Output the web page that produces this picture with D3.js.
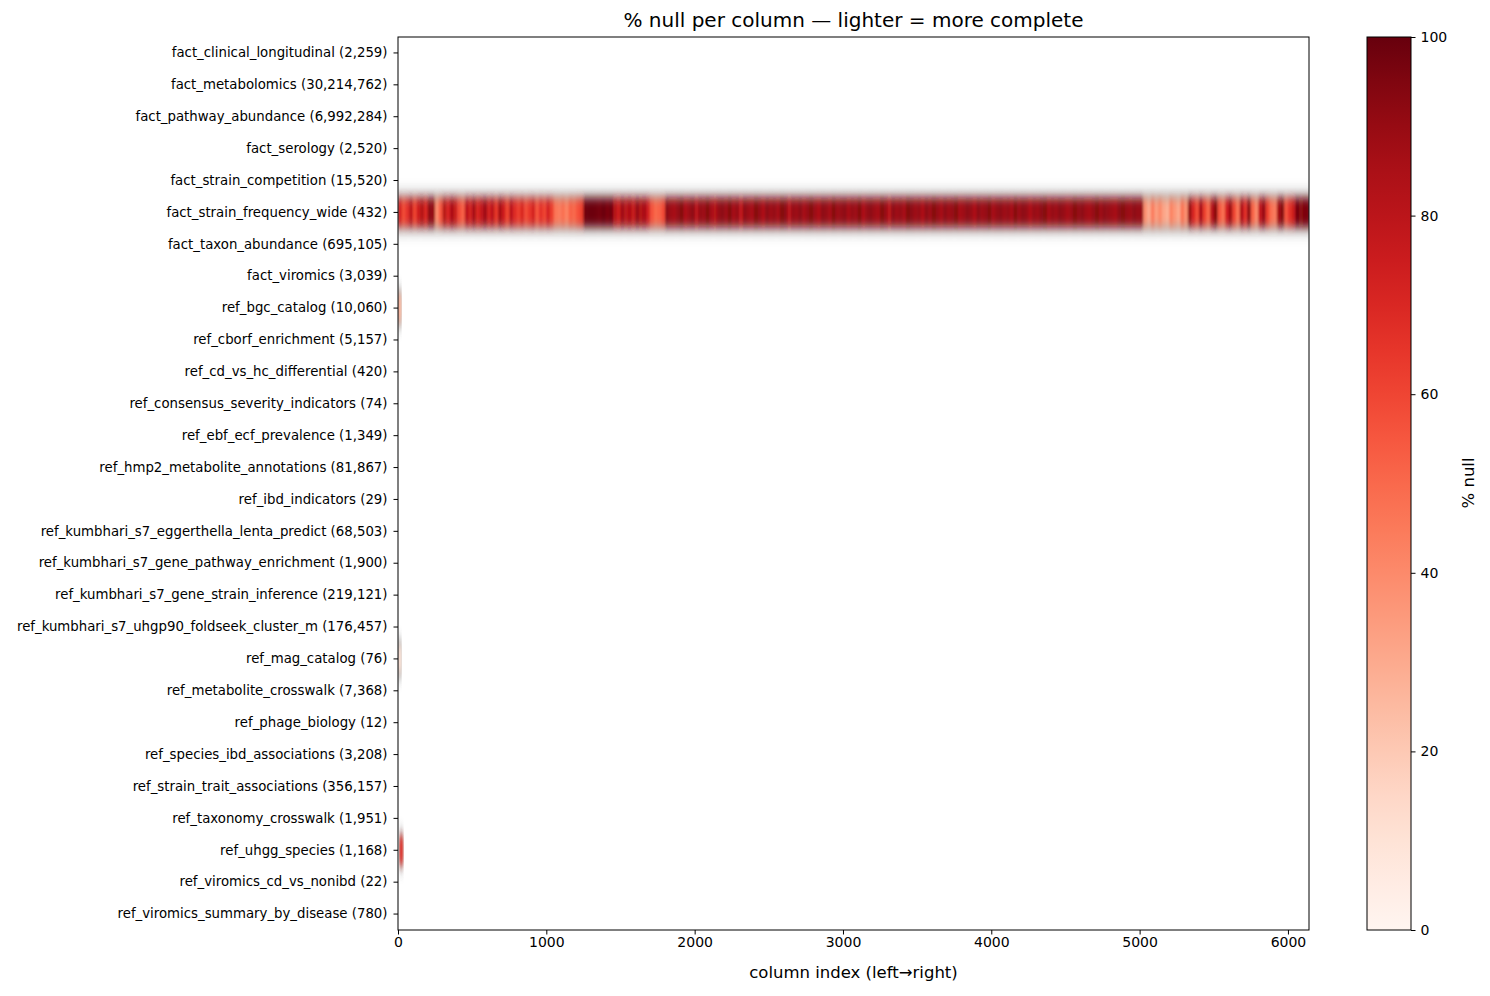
<!DOCTYPE html>
<html>
<head>
<meta charset="utf-8">
<script src="https://cdn.jsdelivr.net/npm/d3@7"></script>
<style>
  body { margin: 0; background: #fff; }
  text { font-family: "DejaVu Sans", sans-serif; fill: #000; }
</style>
</head>
<body>
<svg id="chart" width="1490" height="996"></svg>
<script>
// table names with row counts, top to bottom
var tables = [
  "fact_clinical_longitudinal (2,259)",
  "fact_metabolomics (30,214,762)",
  "fact_pathway_abundance (6,992,284)",
  "fact_serology (2,520)",
  "fact_strain_competition (15,520)",
  "fact_strain_frequency_wide (432)",
  "fact_taxon_abundance (695,105)",
  "fact_viromics (3,039)",
  "ref_bgc_catalog (10,060)",
  "ref_cborf_enrichment (5,157)",
  "ref_cd_vs_hc_differential (420)",
  "ref_consensus_severity_indicators (74)",
  "ref_ebf_ecf_prevalence (1,349)",
  "ref_hmp2_metabolite_annotations (81,867)",
  "ref_ibd_indicators (29)",
  "ref_kumbhari_s7_eggerthella_lenta_predict (68,503)",
  "ref_kumbhari_s7_gene_pathway_enrichment (1,900)",
  "ref_kumbhari_s7_gene_strain_inference (219,121)",
  "ref_kumbhari_s7_uhgp90_foldseek_cluster_m (176,457)",
  "ref_mag_catalog (76)",
  "ref_metabolite_crosswalk (7,368)",
  "ref_phage_biology (12)",
  "ref_species_ibd_associations (3,208)",
  "ref_strain_trait_associations (356,157)",
  "ref_taxonomy_crosswalk (1,951)",
  "ref_uhgg_species (1,168)",
  "ref_viromics_cd_vs_nonibd (22)",
  "ref_viromics_summary_by_disease (780)"
];

var nColumns = 6142;
var blockSize = 25;

// % null of fact_strain_frequency_wide, one value per 25-column block
var strainFreqNull = [
  72, 58, 66, 80, 60, 74, 82, 70, 92, 90, 40, 55, 82, 70, 85, 76, 58, 52, 80, 72,
  86, 70, 78, 88, 72, 80, 64, 86, 74, 60, 80, 68, 62, 70, 58, 64, 72, 56, 66, 60,
  72, 62, 46, 44, 48, 42, 52, 50, 56, 62, 98, 99, 99, 98, 97, 99, 96, 98, 82, 74,
  88, 80, 84, 76, 90, 82, 86, 72, 56, 50, 52, 58, 92, 88, 86, 90, 94, 84, 88, 92,
  80, 90, 88, 94, 86, 82, 90, 92, 88, 94, 86, 90, 78, 92, 88, 86, 94, 90, 84, 92,
  88, 90, 86, 94, 92, 80, 90, 88, 92, 86, 90, 94, 88, 84, 92, 90, 86, 94, 88, 90,
  92, 86, 90, 88, 94, 84, 90, 92, 88, 86, 94, 90, 80, 92, 88, 90, 86, 94, 92, 88,
  90, 84, 92, 88, 94, 90, 86, 92, 88, 90, 94, 86, 88, 92, 90, 84, 92, 88, 90, 94,
  86, 90, 92, 88, 90, 86, 94, 88, 92, 90, 84, 90, 88, 92, 94, 86, 90, 88, 92, 90,
  86, 88, 94, 90, 92, 88, 86, 90, 94, 88, 92, 90, 88, 86, 92, 94, 90, 88, 92, 90,
  90, 38, 30, 44, 34, 40, 32, 28, 42, 36, 30, 46, 38, 90, 70, 58, 86, 62, 50, 80,
  94, 56, 48, 72, 88, 60, 46, 84, 66, 92, 52, 40, 78, 90, 62, 48, 44, 86, 94, 56,
  66, 76, 98, 92, 96
];

// small tables with visible nulls in their first few columns
var bgcNull = [35, 20];
var magNull = [12, 8];
var uhggNull = [0, 70, 65, 0];

var colorTicks = [0, 20, 40, 60, 80, 100];
var xTicks = [0, 1000, 2000, 3000, 4000, 5000, 6000];

var margin = { top: 37, left: 398 };
var plotW = 1309 - margin.left, plotH = 930 - margin.top;

var svg = d3.select("#chart");
var x = d3.scaleLinear().domain([0, nColumns]).range([0, plotW]);
var y = d3.scaleBand().domain(tables).range([0, plotH]);
var color = d3.scaleSequential(d3.interpolateReds).domain([0, 100]);

var defs = svg.append("defs");
defs.append("clipPath").attr("id", "clip")
  .append("rect").attr("width", plotW).attr("height", plotH);
var blur = defs.append("filter").attr("id", "blur")
  .attr("x", "-5%").attr("y", "-100%").attr("width", "110%").attr("height", "300%");
blur.append("feGaussianBlur").attr("stdDeviation", "0.8 5");
var shade = defs.append("filter").attr("id", "shade")
  .attr("x", "-5%").attr("y", "-100%").attr("width", "110%").attr("height", "300%");
shade.append("feGaussianBlur").attr("stdDeviation", "1 7");

var g = svg.append("g").attr("transform", "translate(" + margin.left + "," + margin.top + ")");
var heat = g.append("g").attr("clip-path", "url(#clip)");

function drawRow(name, values, size, fill) {
  var cells = values.map(function(v, i) {
    var c1 = (fill && i === values.length - 1) ? nColumns : Math.min((i + 1) * size, nColumns);
    return { v: v, c0: i * size, c1: c1 };
  }).filter(function(d) { return d.v > 0; });
  var row = heat.append("g");
  // greyish halo from interpolation against empty rows
  row.append("g").attr("filter", "url(#shade)").attr("opacity", 0.6)
    .selectAll("rect").data(cells).enter().append("rect")
    .attr("x", function(d) { return x(d.c0); })
    .attr("width", function(d) { return x(d.c1) - x(d.c0) + 0.6; })
    .attr("y", y(name) - 3).attr("height", y.bandwidth() + 6)
    .attr("fill", "#6a6a6a");
  row.append("g").attr("filter", "url(#blur)")
    .selectAll("rect").data(cells).enter().append("rect")
    .attr("x", function(d) { return x(d.c0); })
    .attr("width", function(d) { return x(d.c1) - x(d.c0) + 0.6; })
    .attr("y", y(name) + 2).attr("height", y.bandwidth() - 4)
    .attr("fill", function(d) { return color(d.v); });
}

drawRow("fact_strain_frequency_wide (432)", strainFreqNull, blockSize, true);
drawRow("ref_bgc_catalog (10,060)", bgcNull, 10);
drawRow("ref_mag_catalog (76)", magNull, 10);
drawRow("ref_uhgg_species (1,168)", uhggNull, 10);

g.append("rect").attr("width", plotW).attr("height", plotH)
  .attr("fill", "none").attr("stroke", "#000").attr("stroke-width", 1);

var xAxis = g.append("g").attr("transform", "translate(0," + plotH + ")")
  .call(d3.axisBottom(x).tickValues(xTicks).tickSize(4.5).tickPadding(3).tickFormat(d3.format("d")));
xAxis.select(".domain").remove();
xAxis.selectAll("text").style("font-size", "14px");

var yAxis = g.append("g")
  .call(d3.axisLeft(y).tickSize(4.5).tickPadding(6));
yAxis.select(".domain").remove();
yAxis.selectAll("text").style("font-size", "13.3px");

svg.append("text").attr("x", margin.left + plotW / 2).attr("y", 978)
  .attr("text-anchor", "middle").style("font-size", "16.5px")
  .text("column index (left\u2192right)");
svg.append("text").attr("x", margin.left + plotW / 2).attr("y", 27)
  .attr("text-anchor", "middle").style("font-size", "20px")
  .text("% null per column \u2014 lighter = more complete");

// colourbar
var cbX = 1367, cbW = 44;
var cy = d3.scaleLinear().domain([0, 100]).range([930, 37]);
var grad = defs.append("linearGradient").attr("id", "cbgrad")
  .attr("x1", 0).attr("y1", 1).attr("x2", 0).attr("y2", 0);
d3.range(0, 101, 5).forEach(function(v) {
  grad.append("stop").attr("offset", v + "%").attr("stop-color", color(v));
});
svg.append("rect").attr("x", cbX).attr("y", 37).attr("width", cbW).attr("height", plotH)
  .attr("fill", "url(#cbgrad)").attr("stroke", "#000").attr("stroke-width", 1);
var cAxis = svg.append("g").attr("transform", "translate(" + (cbX + cbW) + ",0)")
  .call(d3.axisRight(cy).tickValues(colorTicks).tickSize(4.5).tickPadding(5));
cAxis.select(".domain").remove();
cAxis.selectAll("text").style("font-size", "14px");
svg.append("text").attr("transform", "translate(1474,483) rotate(-90)")
  .attr("text-anchor", "middle").style("font-size", "16.5px").text("% null");
</script>
</body>
</html>
